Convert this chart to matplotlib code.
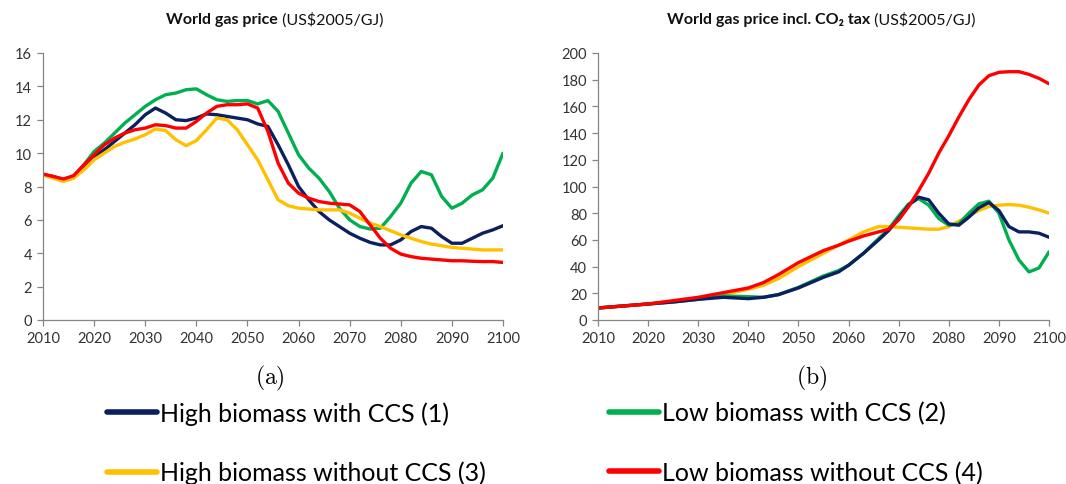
import matplotlib
matplotlib.use("Agg")
import matplotlib.pyplot as plt

plt.rcParams['font.family'] = ['Lato', 'DejaVu Sans']
plt.rcParams['mathtext.fontset'] = 'cm'

# ---- panel (a): world gas price, US$2005/GJ ----
yrs_a = [2010, 2012, 2014, 2016, 2018, 2020, 2022, 2024, 2026, 2028, 2030, 2032, 2034,
         2036, 2038, 2040, 2042, 2044, 2046, 2048, 2050, 2052, 2054, 2056, 2058, 2060,
         2062, 2064, 2066, 2068, 2070, 2072, 2074, 2076, 2078, 2080, 2082, 2084, 2086,
         2088, 2090, 2092, 2094, 2096, 2098, 2100]
high_ccs_a = [8.7, 8.6, 8.4, 8.6, 9.2, 9.8, 10.2, 10.7, 11.2, 11.7, 12.3, 12.7, 12.4,
              12.0, 11.95, 12.1, 12.35, 12.3, 12.2, 12.1, 12.0, 11.75, 11.6, 10.5, 9.3, 8.0,
              7.2, 6.5, 6.0, 5.6, 5.2, 4.9, 4.65, 4.5, 4.5, 4.8, 5.3, 5.6, 5.5,
              5.0, 4.6, 4.6, 4.9, 5.2, 5.4, 5.65]
low_ccs_a = [8.7, 8.55, 8.4, 8.6, 9.3, 10.1, 10.6, 11.2, 11.8, 12.3, 12.8, 13.2, 13.5,
             13.6, 13.8, 13.85, 13.5, 13.2, 13.1, 13.15, 13.15, 12.95, 13.15, 12.5, 11.2, 9.9,
             9.1, 8.5, 7.7, 6.7, 6.0, 5.6, 5.45, 5.5, 6.2, 7.0, 8.2, 8.9, 8.7,
             7.4, 6.7, 7.0, 7.5, 7.8, 8.5, 10.0]
high_noccs_a = [8.7, 8.5, 8.3, 8.5, 9.0, 9.6, 10.0, 10.4, 10.65, 10.85, 11.1, 11.45, 11.35,
                10.8, 10.45, 10.75, 11.4, 12.1, 12.0, 11.4, 10.5, 9.6, 8.4, 7.2, 6.85, 6.7,
                6.65, 6.6, 6.6, 6.6, 6.4, 6.1, 5.8, 5.6, 5.35, 5.1, 4.9, 4.7, 4.55,
                4.45, 4.35, 4.3, 4.25, 4.2, 4.2, 4.2]
low_noccs_a = [8.75, 8.6, 8.45, 8.65, 9.3, 9.9, 10.5, 10.9, 11.2, 11.4, 11.5, 11.7, 11.65,
               11.5, 11.5, 11.9, 12.4, 12.8, 12.9, 12.9, 12.95, 12.7, 11.3, 9.4, 8.2, 7.6,
               7.3, 7.1, 7.0, 6.95, 6.9, 6.5, 5.7, 4.9, 4.3, 3.95, 3.8, 3.7, 3.65,
               3.6, 3.55, 3.55, 3.52, 3.5, 3.5, 3.45]

# ---- panel (b): world gas price incl. CO2 tax ----
yrs_b = [2010, 2015, 2020, 2025, 2030, 2035, 2040, 2043, 2046, 2050, 2055, 2058, 2060,
         2063, 2066, 2068, 2070, 2072, 2074, 2076, 2078, 2080, 2082, 2084, 2086, 2088,
         2090, 2092, 2094, 2096, 2098, 2100]
high_ccs_b = [9, 10.5, 12, 13.5, 15.5, 17, 16, 17, 19, 24, 32, 36, 41,
              50, 60, 67, 76, 86, 92, 90, 80, 72, 71, 77, 84, 88,
              82, 70, 66, 66, 65, 62]
low_ccs_b = [9, 10.5, 12, 13.5, 15.5, 18, 17.5, 17, 19, 24.5, 33, 37, 41,
             50, 61, 68, 78, 87, 91, 86, 76, 71, 72, 80, 87, 89,
             80, 60, 45, 36, 39, 51]
high_noccs_b = [9, 10.5, 12, 14, 16, 19, 23, 26, 31, 40, 50, 56, 60,
                66, 70, 70, 69.5, 69, 68.5, 68, 68, 70, 74, 78, 82, 85,
                86, 86.5, 86, 84.5, 82.5, 80]
low_noccs_b = [9, 10.5, 12, 14.5, 17, 20.5, 24, 28, 34, 43, 52, 56, 59,
               63, 66, 68, 75, 85, 97, 110, 125, 138, 152, 165, 176, 183,
               185.5, 186, 186, 184, 181, 177]

labels = ['High biomass with CCS (1)', 'Low biomass with CCS (2)',
          'High biomass without CCS (3)', 'Low biomass without CCS (4)']
colors = ['#0c1f5e', '#00b050', '#ffc000', '#ff0000']

W, H = 1066, 485
fig = plt.figure(figsize=(W / 100, H / 100), dpi=100)
ax1 = fig.add_axes([43 / W, 1 - 321 / H, 460 / W, 267 / H])
ax2 = fig.add_axes([598 / W, 1 - 321 / H, 451 / W, 267 / H])

series_a = [high_ccs_a, low_ccs_a, high_noccs_a, low_noccs_a]
series_b = [high_ccs_b, low_ccs_b, high_noccs_b, low_noccs_b]

handles = {}
for i in [1, 0, 2, 3]:
    ln, = ax1.plot(yrs_a, series_a[i], color=colors[i], lw=2.4, solid_capstyle='round')
    handles[i] = ln
for i in [2, 1, 0, 3]:
    ax2.plot(yrs_b, series_b[i], color=colors[i], lw=2.4, solid_capstyle='round')

for ax, top, step in [(ax1, 16, 2), (ax2, 200, 20)]:
    ax.set_xlim(2010, 2100)
    ax.set_ylim(0, top)
    ax.set_xticks(range(2010, 2101, 10))
    ax.set_yticks(range(0, top + 1, step))
    for s in ['top', 'right']:
        ax.spines[s].set_visible(False)
    for s in ['left', 'bottom']:
        ax.spines[s].set_color('#868686')
        ax.spines[s].set_linewidth(0.9)
    ax.tick_params(direction='out', length=4, width=0.9, color='#868686',
                   labelsize=10.5, labelcolor='#333333', pad=4)
    ax.patch.set_visible(False)

# titles: bold part followed by a regular unit part
tsize = 11.5
t1 = fig.text(278 / W, 1 - 20 / H, 'World gas price', ha='right', va='center',
              fontsize=tsize, fontweight='bold', color='#111111')
ax1.annotate(r' (US\$2005/GJ)', xy=(1, 0.5), xycoords=t1, va='center', ha='left',
             fontsize=tsize, color='#111111')
t2 = fig.text(870 / W, 1 - 20 / H, 'World gas price incl. CO₂ tax', ha='right', va='center',
              fontsize=tsize, fontweight='bold', color='#111111')
ax2.annotate(r' (US\$2005/GJ)', xy=(1, 0.5), xycoords=t2, va='center', ha='left',
             fontsize=tsize, color='#111111')

fig.text(270 / W, 1 - 378 / H, r'$\mathrm{(a)}$', ha='center', va='center', fontsize=17)
fig.text(812 / W, 1 - 378 / H, r'$\mathrm{(b)}$', ha='center', va='center', fontsize=17)

leg = fig.legend([handles[0], handles[2], handles[1], handles[3]],
                 [labels[0], labels[2], labels[1], labels[3]],
                 ncol=2, loc='upper left', bbox_to_anchor=(107 / W, 1 - 402 / H),
                 frameon=False, fontsize=18, handlelength=2.0, handletextpad=0.1,
                 columnspacing=4.95, labelspacing=1.45, borderpad=0, borderaxespad=0)
for ln in leg.get_lines():
    ln.set_linewidth(4)

fig.savefig('out.png', dpi=100)
